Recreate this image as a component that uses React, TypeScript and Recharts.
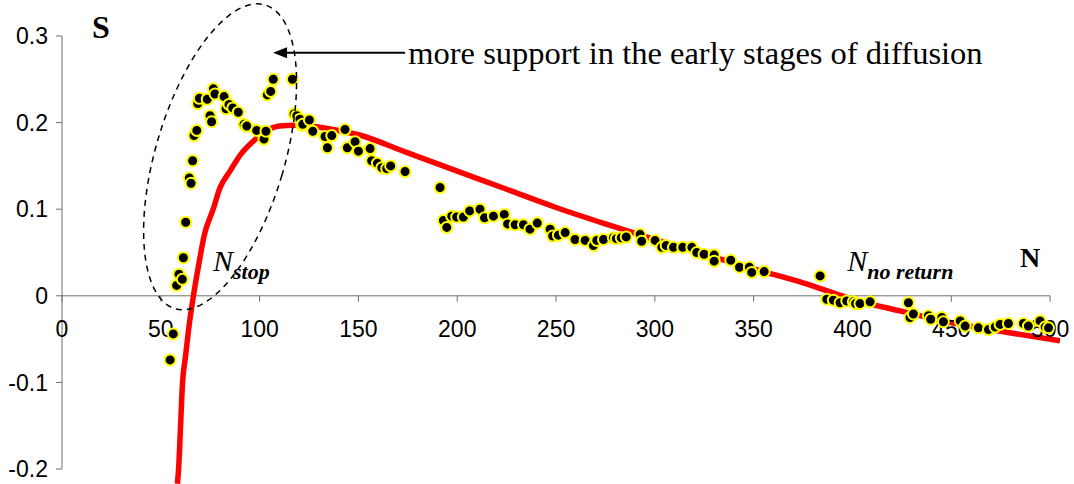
import {
  ComposedChart,
  XAxis,
  YAxis,
  Line,
  Scatter,
  ReferenceLine,
  ReferenceDot,
} from "recharts";

const xTicks = [0, 50, 100, 150, 200, 250, 300, 350, 400, 450, 500];
const yTicks = [-0.2, -0.1, 0, 0.1, 0.2, 0.3];

// model curve S(N)
const curveN = [
  58.4, 59, 60, 61, 62.5, 64, 66.5, 69.5, 72, 76.5, 80, 85, 91, 96.5, 103,
  110, 118, 125, 135, 150, 175, 200, 225, 250, 275, 300, 325, 350, 375, 400,
  425, 450, 475, 505,
];
const curveS = [
  -0.217, -0.2, -0.15, -0.1, -0.07, -0.04, 0, 0.04, 0.07, 0.1, 0.125, 0.144,
  0.165, 0.178, 0.19, 0.196, 0.197, 0.196, 0.193, 0.186, 0.165, 0.144, 0.123,
  0.102, 0.083, 0.065, 0.048, 0.031, 0.015, -0.004, -0.018, -0.031, -0.041,
  -0.052,
];

// observed support values
const obsN = [
  54.7, 56.3, 58.0, 59.2, 60.9, 61.4, 62.6, 64.4, 65.3, 66.1, 66.8, 68.2, 68.7,
  69.5, 73.5, 74.9, 75.7, 76.6, 77.4, 82.0, 83.0, 84.5, 86.4, 89.2, 92.1, 93.5,
  98.5, 102.2, 103.2, 103.9, 105.6, 106.9, 116.6, 117.4, 118.8, 120.4, 121.3,
  121.8, 125.2, 126.9, 133.1, 134.3, 136.5, 143.2, 144.4, 148.3, 150.0, 155.9,
  156.7, 159.6, 161.8, 164.3, 166.3, 173.6, 191.3, 193.0, 194.7, 197.2, 199.7,
  203.1, 206.3, 211.5, 213.8, 218.3, 223.8, 225.5, 229.3, 233.5, 236.8, 240.5,
  247.0, 248.3, 251.2, 254.6, 259.6, 264.7, 268.9, 270.6, 274.0, 279.0, 280.5,
  283.0, 285.5, 292.5, 293.3, 300.1, 303.5, 305.7, 309.4, 314.1, 318.7, 321.2,
  324.9, 330.0, 330.0, 338.4, 342.8, 347.8, 349.0, 355.3, 383.6, 387.0, 390.3,
  393.7, 397.1, 400.4, 401.5, 403.8, 408.9, 428.3, 429.1, 430.8, 438.4, 439.6,
  445.2, 446.0, 454.5, 457.0, 463.7, 468.8, 472.2, 474.7, 478.9, 486.5, 489.0,
  494.9, 497.5, 499.2,
];
const obsS = [
  -0.074, -0.044, 0.012, 0.025, 0.019, 0.044, 0.085, 0.136, 0.13, 0.156, 0.185,
  0.191, 0.222, 0.228, 0.227, 0.208, 0.201, 0.239, 0.233, 0.23, 0.216, 0.221,
  0.217, 0.212, 0.198, 0.196, 0.191, 0.181, 0.19, 0.232, 0.236, 0.25, 0.25,
  0.21, 0.208, 0.204, 0.197, 0.198, 0.203, 0.19, 0.184, 0.171, 0.185, 0.192,
  0.171, 0.178, 0.167, 0.17, 0.156, 0.153, 0.148, 0.147, 0.15, 0.1435, 0.125,
  0.087, 0.079, 0.092, 0.091, 0.091, 0.098, 0.1, 0.09, 0.092, 0.094, 0.083,
  0.082, 0.082, 0.077, 0.084, 0.077, 0.069, 0.07, 0.073, 0.065, 0.064, 0.058,
  0.064, 0.065, 0.067, 0.066, 0.067, 0.068, 0.071, 0.063, 0.064, 0.056, 0.058,
  0.056, 0.056, 0.056, 0.05, 0.048, 0.047, 0.04, 0.041, 0.033, 0.033, 0.027,
  0.028, 0.023, -0.004, -0.005, -0.008, -0.006, -0.007, -0.009, -0.009, -0.007,
  -0.008, -0.025, -0.021, -0.023, -0.027, -0.025, -0.03, -0.029, -0.035,
  -0.037, -0.039, -0.036, -0.033, -0.032, -0.032, -0.035, -0.029, -0.036,
  -0.037,
];

const curve = curveN.map((n, i) => ({ n, s: curveS[i] }));
const observed = obsN.map((n, i) => ({ n, s: obsS[i] }));

const AXIS = "#6f6f6f";
const SANS = "Arial, 'Liberation Sans', sans-serif";
const SERIF = "'Times New Roman', 'Liberation Serif', serif";

const Obs = (p: any) => (
  <circle cx={p.cx} cy={p.cy} r={5.5} fill="#000" stroke="#ffff00" strokeWidth={2} />
);

const xTick = (value: number) => (p: any) => (
  <g>
    <line x1={p.cx} y1={p.cy} x2={p.cx} y2={p.cy + 6} stroke={AXIS} />
    <text x={p.cx} y={p.cy + 41} textAnchor="middle" fontSize={23} fontFamily={SANS} fill="#000">
      {value}
    </text>
  </g>
);

const ellipse = (p: any) => (
  <ellipse
    cx={p.cx}
    cy={p.cy}
    rx={64.5}
    ry={158.4}
    transform={`rotate(16.5 ${p.cx} ${p.cy})`}
    fill="none"
    stroke="#000"
    strokeWidth={1.5}
    strokeDasharray="6 5"
  />
);

const arrowHead = (p: any) => (
  <polygon
    points={`${p.cx},${p.cy} ${p.cx + 14},${p.cy - 5.5} ${p.cx + 14},${p.cy + 5.5}`}
    fill="#000"
  />
);

const noteText = (p: any) => (
  <text x={p.cx} y={p.cy} dominantBaseline="central" fontSize={32.5} fontFamily={SERIF} fill="#000">
    more support in the early stages of diffusion
  </text>
);

const boldLetter = (label: string, size: number) => (p: any) => (
  <text x={p.cx} y={p.cy} fontSize={size} fontWeight="bold" fontFamily={SERIF} fill="#000">
    {label}
  </text>
);

const nSub = (sub: string) => (p: any) => (
  <text x={p.cx} y={p.cy} fontFamily={SERIF} fill="#000">
    <tspan fontSize={30} fontStyle="italic">N</tspan>
    <tspan fontSize={22} fontStyle="italic" fontWeight="bold" dy={8}>
      {sub}
    </tspan>
  </text>
);

export default function App() {
  return (
    <div style={{ position: "absolute", left: 0, top: 0, background: "#fff" }}>
      <ComposedChart
        width={1074}
        height={484}
        margin={{ top: 36, right: 14, bottom: 0, left: 2 }}
      >
        <XAxis type="number" dataKey="n" domain={[0, 505]} allowDataOverflow hide />
        <YAxis
          type="number"
          domain={[-0.2173, 0.3]}
          ticks={yTicks}
          interval={0}
          allowDataOverflow
          width={60}
          axisLine={false}
          tickLine={{ stroke: AXIS }}
          tickSize={6}
          tickMargin={8}
          tick={{ fontSize: 23, fill: "#000", fontFamily: SANS }}
          tickFormatter={(v: number) => String(v)}
        />
        <ReferenceLine segment={[{ x: 0, y: -0.2 }, { x: 0, y: 0.3 }]} stroke={AXIS} />
        <ReferenceLine segment={[{ x: 0, y: 0 }, { x: 500, y: 0 }]} stroke={AXIS} />
        {xTicks.map((v) => (
          <ReferenceDot key={v} x={v} y={0} r={0} shape={xTick(v)} />
        ))}

        <Line
          data={curve}
          dataKey="s"
          type="monotone"
          stroke="#ff0000"
          strokeWidth={5.5}
          dot={false}
          activeDot={false}
          isAnimationActive={false}
        />
        <Scatter data={observed} dataKey="s" shape={Obs} isAnimationActive={false} />

        <ReferenceDot x={80} y={0.1605} shape={ellipse} />
        <ReferenceLine
          segment={[{ x: 112, y: 0.2806 }, { x: 173.6, y: 0.2806 }]}
          stroke="#000"
          strokeWidth={2}
        />
        <ReferenceDot x={106.8} y={0.2806} shape={arrowHead} />
        <ReferenceDot x={175.2} y={0.2806} shape={noteText} />
        <ReferenceDot x={15.2} y={0.2979} shape={boldLetter("S", 32)} />
        <ReferenceDot x={484.8} y={0.0327} shape={boldLetter("N", 28)} />
        <ReferenceDot x={76.4} y={0.0289} shape={nSub("stop")} />
        <ReferenceDot x={397.3} y={0.0281} shape={nSub("no return")} />
      </ComposedChart>
    </div>
  );
}
